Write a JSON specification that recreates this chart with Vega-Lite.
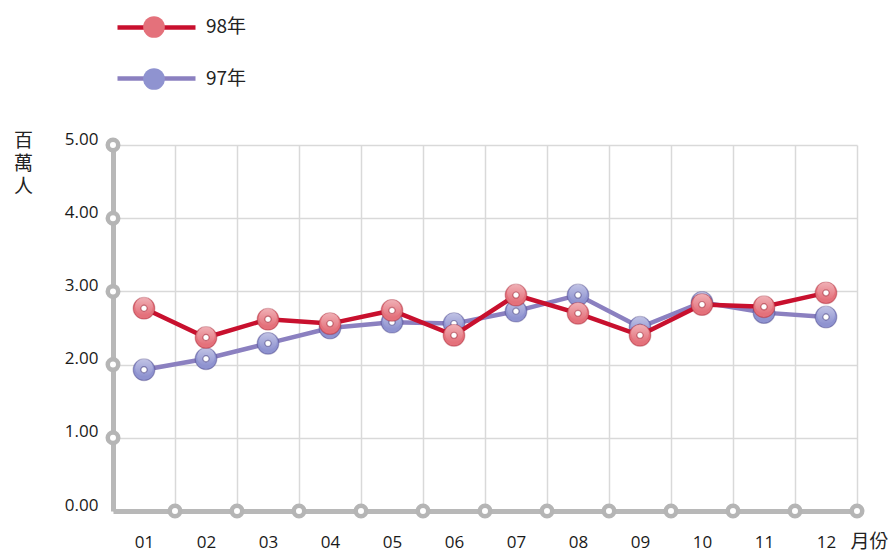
{
  "$schema": "https://vega.github.io/schema/vega-lite/v6.json",
  "width": 744,
  "height": 366,
  "autosize": "none",
  "padding": {"left": 113, "top": 145, "right": 38, "bottom": 40},
  "background": "white",
  "config": {"view": {"stroke": null}, "font": "Open Sans"},
  "datasets": {
    "visitors": [
      {"month": "01", "series": "97年", "value": 1.93},
      {"month": "02", "series": "97年", "value": 2.08},
      {"month": "03", "series": "97年", "value": 2.29},
      {"month": "04", "series": "97年", "value": 2.50},
      {"month": "05", "series": "97年", "value": 2.58},
      {"month": "06", "series": "97年", "value": 2.56},
      {"month": "07", "series": "97年", "value": 2.73},
      {"month": "08", "series": "97年", "value": 2.95},
      {"month": "09", "series": "97年", "value": 2.51},
      {"month": "10", "series": "97年", "value": 2.85},
      {"month": "11", "series": "97年", "value": 2.71},
      {"month": "12", "series": "97年", "value": 2.65},
      {"month": "01", "series": "98年", "value": 2.77},
      {"month": "02", "series": "98年", "value": 2.37},
      {"month": "03", "series": "98年", "value": 2.62},
      {"month": "04", "series": "98年", "value": 2.56},
      {"month": "05", "series": "98年", "value": 2.74},
      {"month": "06", "series": "98年", "value": 2.40},
      {"month": "07", "series": "98年", "value": 2.95},
      {"month": "08", "series": "98年", "value": 2.70},
      {"month": "09", "series": "98年", "value": 2.40},
      {"month": "10", "series": "98年", "value": 2.82},
      {"month": "11", "series": "98年", "value": 2.79},
      {"month": "12", "series": "98年", "value": 2.98}
    ],
    "months": [
      {"month": "01"}, {"month": "02"}, {"month": "03"}, {"month": "04"},
      {"month": "05"}, {"month": "06"}, {"month": "07"}, {"month": "08"},
      {"month": "09"}, {"month": "10"}, {"month": "11"}, {"month": "12"}
    ],
    "yticks": [{"v": 1}, {"v": 2}, {"v": 3}, {"v": 4}, {"v": 5}]
  },
  "layer": [
    {
      "data": {"name": "months"},
      "mark": {"type": "point", "filled": true, "fill": "white", "stroke": "#b5b5b5", "strokeWidth": 4.5, "size": 110, "opacity": 1},
      "encoding": {
        "x": {
          "field": "month",
          "type": "ordinal",
          "bandPosition": 1,
          "scale": {"type": "band", "paddingInner": 0, "paddingOuter": 0},
          "axis": {
            "title": "月份",
            "titleFont": "Noto Sans CJK TC",
            "titleFontSize": 19,
            "titleFontWeight": "normal",
            "titleColor": "#222",
            "titleX": 737,
            "titleY": 36,
            "titleAlign": "left",
            "titleBaseline": "alphabetic",
            "labelAngle": 0,
            "labelFont": "Open Sans",
            "labelFontSize": 17,
            "labelColor": "#1a1a1a",
            "labelPadding": 36,
            "labelBaseline": "alphabetic",
            "ticks": false,
            "tickSize": 0,
            "domainColor": "#b8b8b8",
            "domainWidth": 5,
            "grid": true,
            "gridColor": "#d9d9d9",
            "gridWidth": 1.5,
            "tickBand": "extent"
          }
        },
        "y": {
          "datum": 0,
          "type": "quantitative",
          "scale": {"domain": [0, 5], "nice": false},
          "axis": {
            "title": ["百", "萬", "人"],
            "titleAngle": 0,
            "titleX": -90,
            "titleY": -14,
            "titleAlign": "center",
            "titleBaseline": "top",
            "titleFont": "Noto Sans CJK TC",
            "titleFontSize": 19,
            "titleFontWeight": "normal",
            "titleColor": "#222",
            "titleLineHeight": 23,
            "values": [0, 1, 2, 3, 4, 5],
            "format": ".2f",
            "labelFont": "Open Sans",
            "labelFontSize": 17,
            "labelColor": "#1a1a1a",
            "labelPadding": 15,
            "labelOffset": -1,
            "labelBaseline": "alphabetic",
            "ticks": false,
            "tickSize": 0,
            "domainColor": "#b8b8b8",
            "domainWidth": 5,
            "grid": true,
            "gridColor": "#d9d9d9",
            "gridWidth": 1.5
          }
        }
      }
    },
    {
      "data": {"name": "yticks"},
      "mark": {"type": "point", "filled": true, "fill": "white", "stroke": "#b5b5b5", "strokeWidth": 4.5, "size": 110, "opacity": 1},
      "encoding": {
        "x": {"datum": "01", "type": "ordinal", "bandPosition": 0},
        "y": {"field": "v", "type": "quantitative"}
      }
    },
    {
      "data": {"name": "visitors"},
      "transform": [{"filter": "datum.series === '97年'"}],
      "encoding": {
        "x": {"field": "month", "type": "ordinal", "bandPosition": 0.5},
        "y": {"field": "value", "type": "quantitative"}
      },
      "layer": [
        {
          "mark": {"type": "line", "strokeWidth": 4.5},
          "encoding": {
            "stroke": {
              "field": "series",
              "type": "nominal",
              "scale": {"domain": ["98年", "97年"], "range": ["#c8102e", "#8b80c0"]},
              "legend": {
                "orient": "none",
                "legendX": 2,
                "legendY": -159,
                "title": null,
                "padding": 0,
                "symbolType": "stroke",
                "symbolSize": 6084,
                "symbolStrokeWidth": 4.5,
                "rowPadding": -29,
                "labelExpr": "''"
              }
            }
          }
        },
        {
          "mark": {"type": "point", "filled": true, "size": 470, "opacity": 1, "stroke": "rgba(40,30,100,0.3)", "strokeWidth": 1.2},
          "encoding": {
            "fill": {
              "field": "series",
              "type": "nominal",
              "sort": "descending",
              "scale": {"range": ["#e4717b", "#8f93d0"]},
              "legend": {
                "orient": "none",
                "legendX": 30,
                "legendY": -129,
                "title": null,
                "padding": 0,
                "symbolType": "circle",
                "symbolSize": 470,
                "symbolStrokeWidth": 0,
                "rowPadding": 30,
                "labelOffset": 41,
                "labelFont": "Noto Sans CJK TC",
                "labelFontSize": 19,
                "labelColor": "#222"
              }
            }
          }
        },
        {
          "mark": {
            "type": "point",
            "filled": true,
            "size": 320,
            "opacity": 1,
            "yOffset": -2,
            "fill": {
              "gradient": "linear",
              "x1": 0, "y1": 0, "x2": 0, "y2": 1,
              "stops": [
                {"offset": 0, "color": "rgba(255,255,255,0.45)"},
                {"offset": 1, "color": "rgba(255,255,255,0)"}
              ]
            }
          }
        },
        {
          "mark": {"type": "point", "filled": true, "fill": "white", "stroke": "rgba(40,30,100,0.45)", "strokeWidth": 1.2, "size": 38, "opacity": 1}
        }
      ]
    },
    {
      "data": {"name": "visitors"},
      "transform": [{"filter": "datum.series === '98年'"}],
      "encoding": {
        "x": {"field": "month", "type": "ordinal", "bandPosition": 0.5},
        "y": {"field": "value", "type": "quantitative"}
      },
      "layer": [
        {
          "mark": {"type": "line", "strokeWidth": 4.5},
          "encoding": {
            "stroke": {"field": "series", "type": "nominal"}
          }
        },
        {
          "mark": {"type": "point", "filled": true, "size": 470, "opacity": 1, "stroke": "rgba(140,0,20,0.3)", "strokeWidth": 1.2},
          "encoding": {
            "fill": {"field": "series", "type": "nominal", "sort": "descending"}
          }
        },
        {
          "mark": {
            "type": "point",
            "filled": true,
            "size": 320,
            "opacity": 1,
            "yOffset": -2,
            "fill": {
              "gradient": "linear",
              "x1": 0, "y1": 0, "x2": 0, "y2": 1,
              "stops": [
                {"offset": 0, "color": "rgba(255,255,255,0.45)"},
                {"offset": 1, "color": "rgba(255,255,255,0)"}
              ]
            }
          }
        },
        {
          "mark": {"type": "point", "filled": true, "fill": "white", "stroke": "rgba(140,0,20,0.45)", "strokeWidth": 1.2, "size": 38, "opacity": 1}
        }
      ]
    }
  ]
}
